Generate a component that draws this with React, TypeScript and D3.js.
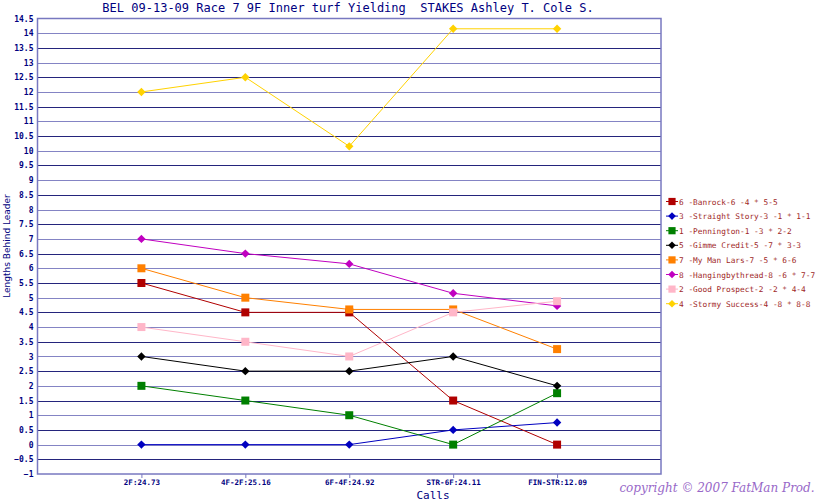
import React, { useEffect, useRef } from "react";
import * as d3 from "d3";

const calls = ["2F:24.73", "4F-2F:25.16", "6F-4F:24.92", "STR-6F:24.11", "FIN-STR:12.09"];

const horseNames = [
  "6 -Banrock-6 -4 * 5-5",
  "3 -Straight Story-3 -1 * 1-1",
  "1 -Pennington-1 -3 * 2-2",
  "5 -Gimme Credit-5 -7 * 3-3",
  "7 -My Man Lars-7 -5 * 6-6",
  "8 -Hangingbythread-8 -6 * 7-7",
  "2 -Good Prospect-2 -2 * 4-4",
  "4 -Stormy Success-4 -8 * 8-8",
];
const horseColors = ["#b00000", "#0000c0", "#008000", "#000000", "#ff8000", "#c000c0", "#ffb6c8", "#ffd200"];
const horseShapes = ["square", "diamond", "square", "diamond", "square", "diamond", "square", "diamond"];

const banrock = [5.5, 4.5, 4.5, 1.5, 0];
const straightStory = [0, 0, 0, 0.5, 0.75];
const pennington = [2, 1.5, 1, 0, 1.75];
const gimmeCredit = [3, 2.5, 2.5, 3, 2];
const myManLars = [6, 5, 4.6, 4.6, 3.25];
const hangingbythread = [7, 6.5, 6.15, 5.15, 4.72];
const goodProspect = [4, 3.5, 3, 4.5, 4.88];
const stormySuccess = [12, 12.5, 10.15, 14.15, 14.15];

const seriesValues = [banrock, straightStory, pennington, gimmeCredit, myManLars, hangingbythread, goodProspect, stormySuccess];

const yTicks = d3.range(-1, 14.51, 0.5);

// square or rotated-square marker path centred on 0,0
const markerPath = (shape: string, r: number) => {
  const p = d3.path();
  if (shape === "square") {
    p.rect(-r, -r, 2 * r, 2 * r);
  } else {
    p.moveTo(0, -r);
    p.lineTo(r, 0);
    p.lineTo(0, r);
    p.lineTo(-r, 0);
    p.closePath();
  }
  return p.toString();
};

const App: React.FC = () => {
  const ref = useRef<SVGSVGElement | null>(null);

  useEffect(() => {
    if (!ref.current) return;
    const svg = d3.select(ref.current);
    svg.selectAll("*").remove();

    const left = 37.5, right = 661, top = 18.5, bottom = 474;
    const x = d3.scalePoint<string>().domain(calls).range([left, right]).padding(1);
    const y = d3.scaleLinear().domain([-1, 14.5]).range([bottom, top]);
    const navy = "#000080";
    const mono = "'DejaVu Sans Mono', monospace";

    // gridlines
    svg.append("g")
      .selectAll("line")
      .data(yTicks.slice(1, -1))
      .join("line")
      .attr("x1", left).attr("x2", right)
      .attr("y1", (d) => Math.round(y(d)) + 0.5)
      .attr("y2", (d) => Math.round(y(d)) + 0.5)
      .attr("stroke", (d, i) => (i % 2 === 0 ? "#24247c" : "#8484c4"))
      .attr("stroke-width", 1)
      .attr("shape-rendering", "crispEdges");

    // frame
    svg.append("rect")
      .attr("x", left).attr("y", top)
      .attr("width", right - left).attr("height", bottom - top)
      .attr("fill", "none").attr("stroke", "#7878c0").attr("stroke-width", 1.5);

    // y axis
    const yAxis = svg.append("g")
      .attr("transform", `translate(${left},0)`)
      .call(d3.axisLeft(y).tickValues(yTicks).tickSize(0).tickPadding(4).tickFormat((d) => d3.format("")(+d)));
    yAxis.select(".domain").remove();
    yAxis.selectAll("text")
      .attr("font-family", mono).attr("font-size", 8).attr("font-weight", "bold")
      .attr("fill", navy);

    // x axis
    const xAxis = svg.append("g")
      .attr("transform", `translate(0,${bottom})`)
      .call(d3.axisBottom(x).tickSize(4).tickPadding(2));
    xAxis.select(".domain").remove();
    xAxis.selectAll("line").attr("stroke", "#7878c0");
    xAxis.selectAll("text")
      .attr("font-family", mono).attr("font-size", 7.5).attr("font-weight", "bold")
      .attr("fill", navy);

    const line = d3.line<number>()
      .x((_, i) => x(calls[i]) as number)
      .y((d) => y(d));

    seriesValues.forEach((vals, k) => {
      const g = svg.append("g");
      g.append("path")
        .attr("d", line(vals))
        .attr("fill", "none")
        .attr("stroke", horseColors[k])
        .attr("stroke-width", 1);
      g.selectAll("path.m")
        .data(vals)
        .join("path")
        .attr("class", "m")
        .attr("transform", (d, i) => `translate(${x(calls[i])},${y(d)})`)
        .attr("d", markerPath(horseShapes[k], horseShapes[k] === "square" ? 4 : 4.2))
        .attr("fill", horseColors[k]);
    });

    // legend
    const legend = svg.append("g");
    horseNames.forEach((name, k) => {
      const ly = 201.5 + k * 14.6;
      legend.append("line")
        .attr("x1", 666).attr("x2", 678).attr("y1", ly).attr("y2", ly)
        .attr("stroke", horseColors[k]).attr("stroke-width", 1);
      legend.append("path")
        .attr("transform", `translate(672,${ly})`)
        .attr("d", markerPath(horseShapes[k], horseShapes[k] === "square" ? 3.6 : 3.8))
        .attr("fill", horseColors[k]);
      legend.append("text")
        .attr("x", 679).attr("y", ly + 3)
        .attr("font-family", mono).attr("font-size", 7.8)
        .attr("fill", "#a02828")
        .text(name);
    });

    // title
    svg.append("text")
      .attr("x", 348).attr("y", 12)
      .attr("text-anchor", "middle")
      .attr("font-family", mono).attr("font-size", 12)
      .attr("fill", navy)
      .style("white-space", "pre")
      .text("BEL 09-13-09 Race 7 9F Inner turf Yielding  STAKES Ashley T. Cole S.");

    svg.append("text")
      .attr("x", 433).attr("y", 499)
      .attr("text-anchor", "middle")
      .attr("font-family", mono).attr("font-size", 11)
      .attr("fill", navy)
      .text("Calls");

    svg.append("text")
      .attr("transform", "translate(10,246) rotate(-90)")
      .attr("text-anchor", "middle")
      .attr("font-family", "'DejaVu Sans', sans-serif").attr("font-size", 9)
      .attr("fill", navy)
      .text("Lengths Behind Leader");

    svg.append("text")
      .attr("x", 717).attr("y", 492)
      .attr("text-anchor", "middle")
      .attr("font-family", "'DejaVu Serif', serif").attr("font-style", "italic")
      .attr("font-size", 12)
      .attr("fill", "#9868c8")
      .text("copyright © 2007 FatMan Prod.");
  }, []);

  return (
    <svg
      ref={ref}
      width={820}
      height={501}
      style={{ position: "absolute", left: 0, top: 0, background: "#ffffff" }}
    />
  );
};

export default App;
